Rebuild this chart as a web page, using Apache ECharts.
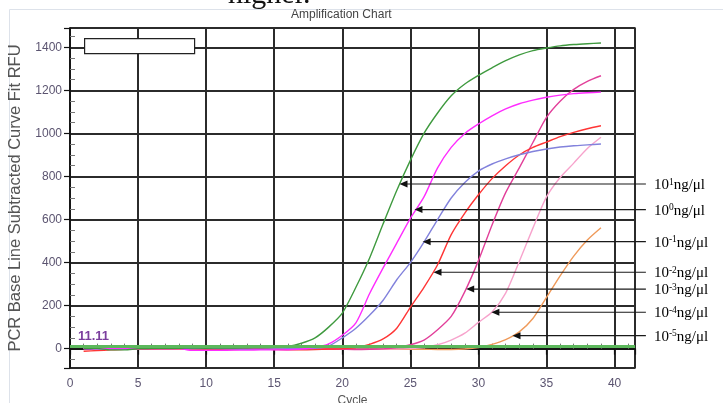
<!DOCTYPE html>
<html>
<head>
<meta charset="utf-8">
<title>Amplification Chart</title>
<script src="https://cdn.jsdelivr.net/npm/echarts@6/dist/echarts.min.js"></script>
<style>
	html,body{margin:0;padding:0;background:#fff;}
	#amp_chart{width:723px;height:403px;}
</style>
</head>
<body>
<div id="amp_chart"></div>
<script>
// cycles 1..39
var cycles=[1,2,3,4,5,6,7,8,9,10,11,12,13,14,15,16,17,18,19,20,21,22,23,24,25,26,27,28,29,30,31,32,33,34,35,36,37,38,39];

// RFU per dilution
var rfu_e1=[2,1,-6,-6,0,1,2,2,3,2,3,3,4,5,6,10,25,50,100,165,285,420,580,735,875,1000,1095,1175,1230,1270,1305,1338,1365,1385,1397,1407,1413,1417,1420];
var rfu_e0=[0,0,0,0,0,0,0,0,-8,-8,-8,-7,-7,-6,-6,-5,-2,5,22,62,120,255,375,490,605,705,840,935,1000,1044,1082,1114,1138,1155,1168,1178,1185,1189,1192];
var rfu_m1=[0,-2,-3,-3,0,0,0,1,0,0,0,-2,-3,-3,-2,0,0,2,12,50,95,155,225,320,400,495,600,700,772,825,858,882,901,916,928,937,943,947,951];
var rfu_m2=[-12,-9,-6,-3,-2,-2,-1,0,-1,-3,-4,-4,-3,-3,-4,-5,-5,-4,-2,0,5,20,45,95,192,285,390,530,630,715,790,850,900,935,960,985,1005,1022,1036];
var rfu_m3=[0,0,-2,-2,0,0,0,0,0,0,0,0,0,0,-2,-3,-3,-2,-2,-3,-4,-3,-1,5,18,40,88,150,265,409,575,725,840,958,1075,1150,1205,1242,1268];
var rfu_m4=[0,0,0,0,0,0,0,0,0,0,0,0,0,0,0,0,0,0,0,-2,-3,-3,-2,-2,0,5,18,40,72,122,170,258,405,560,705,795,862,930,982];
var rfu_m5=[10,-3,-3,-3,-3,-3,-3,-3,-3,-3,-3,-3,-3,-3,-3,-3,-3,-3,-3,-3,-3,-3,-3,-3,-3,-3,-4,-4,-2,5,20,42,78,140,238,338,430,505,562];

var threshold=11.11;

// arrow annotations: tip point on each curve, label exponent
var arrowExp=['1','0','-1','-2','-3','-4','-5'];
var arrowTipX=[24.2,25.3,25.9,26.7,29.1,30.95,32.5];
var arrowY=[765,646,497,355,277,169,60];
var arrowEndX=42.3;

var yTicks=[0,200,400,600,800,1000,1200,1400];

function pairs(xs,ys){
	var out=[];
	for(var i=0;i<xs.length;i++) out.push([xs[i],ys[i]]);
	return out;
}

function curve(name,data,color){
	return {
		name:name,
		type:'line',
		data:pairs(cycles,data),
		showSymbol:false,
		smooth:0.25,
		lineStyle:{color:color,width:1.4},
		itemStyle:{color:color},
		z:3
	};
}

function renderArrow(params,api){
	var i=params.dataIndex;
	var tip=api.coord([api.value(0),api.value(1)]);
	var end=api.coord([api.value(2),api.value(1)]);
	return {
		type:'group',
		children:[
			{type:'line',shape:{x1:tip[0]+6,y1:tip[1],x2:end[0],y2:end[1]},style:{stroke:'#1a1a1a',lineWidth:1.2}},
			{type:'polygon',shape:{points:[[tip[0],tip[1]],[tip[0]+8,tip[1]-3.5],[tip[0]+8,tip[1]+3.5]]},style:{fill:'#111'}},
			{type:'text',x:end[0]+8,y:end[1]+1,style:{
				text:'{b|10}{s|'+arrowExp[i]+'}{b|ng/μl}',
				verticalAlign:'middle',align:'left',
				rich:{
					b:{fontFamily:'Liberation Serif',fontSize:15,color:'#111',lineHeight:16},
					s:{fontFamily:'Liberation Serif',fontSize:9.5,color:'#111',verticalAlign:'top'}
				}
			}}
		]
	};
}

var arrowData=[];
for(var k=0;k<arrowTipX.length;k++) arrowData.push([arrowTipX[k],arrowY[k],arrowEndX]);

var chart=echarts.init(document.getElementById('amp_chart'));

var labelColor='#5b5470';
var gridColor='#2b2b2b';

var option={
	backgroundColor:'#fff',
	animation:false,
	title:{
		text:'Amplification Chart',
		left:286,top:4,
		textStyle:{fontFamily:'Liberation Sans',fontSize:12,fontWeight:'normal',color:'#444'}
	},
	graphic:[
		{type:'rect',left:7,top:7,shape:{width:740,height:420},style:{fill:'none',stroke:'#dde2ea',lineWidth:1},silent:true,z:-10},
		{type:'text',left:228,top:-20,style:{text:'higher.',fontFamily:'Liberation Serif',fontSize:30,fill:'#111'},silent:true},
		// empty legend box, top left
		{type:'rect',left:84,top:38,shape:{width:110,height:15},style:{fill:'#fff',stroke:'#222',lineWidth:1.2},z:20}
	],
	grid:{left:70,right:88,top:28,bottom:35,outerBoundsMode:'none',show:true,borderColor:gridColor,borderWidth:1.5,backgroundColor:'#fff'},
	xAxis:{
		type:'value',min:0,max:41.5,interval:5,
		name:'Cycle',nameLocation:'middle',nameGap:24,
		nameTextStyle:{fontFamily:'Liberation Sans',fontSize:12,color:'#555'},
		axisLine:{lineStyle:{color:'#111',width:1.5}},
		axisTick:{show:true,length:6,lineStyle:{color:'#111',width:1.2}},
		minorTick:{show:true,splitNumber:5,length:-5,lineStyle:{color:'#777',width:1}},
		axisLabel:{showMaxLabel:false,margin:10,fontFamily:'Liberation Sans',fontSize:12,color:labelColor},
		splitLine:{show:true,lineStyle:{color:gridColor,width:2}}
	},
	yAxis:{
		type:'value',min:-90,max:1490,splitNumber:8,
		name:'PCR Base Line Subtracted Curve Fit RFU',nameLocation:'middle',nameGap:40,
		nameTextStyle:{fontFamily:'Liberation Sans',fontSize:16.5,color:'#555'},
		axisLine:{show:true,lineStyle:{color:'#111',width:1.5}},
		axisTick:{show:true,length:6,lineStyle:{color:'#111',width:1.2}},
		minorTick:{show:true,splitNumber:4,length:-5,lineStyle:{color:'#777',width:1}},
		axisLabel:{
			showMinLabel:false,showMaxLabel:false,margin:8,
			fontFamily:'Liberation Sans',fontSize:12,color:labelColor,
			formatter:function(v){return yTicks.indexOf(v)>=0?String(v):'';}
		},
		splitLine:{show:true,lineStyle:{color:gridColor,width:2}}
	},
	series:[
		curve('10^-5',rfu_m5,'#ef9a5a'),
		curve('10^-4',rfu_m4,'#f7a3cc'),
		curve('10^-3',rfu_m3,'#e2409a'),
		curve('10^-2',rfu_m2,'#ff3535'),
		curve('10^-1',rfu_m1,'#8282dc'),
		curve('10^0',rfu_e0,'#ff2cff'),
		curve('10^1',rfu_e1,'#3f9a3f'),
		{
			name:'threshold',type:'line',data:[],z:4,
			markLine:{
				silent:true,symbol:['none','none'],
				lineStyle:{color:'#5cb85c',width:3,type:'solid'},
				label:{
					show:true,position:'insideStartTop',distance:[8,3],
					formatter:function(){return String(threshold);},
					fontFamily:'Liberation Sans',fontSize:13,fontWeight:'bold',color:'#7b3f9e'
				},
				data:[{yAxis:threshold}]
			}
		},
		{
			name:'arrows',type:'custom',clip:false,z:10,
			renderItem:renderArrow,
			encode:{x:0,y:1},
			data:arrowData
		}
	]
};

chart.setOption(option);
</script>
</body>
</html>
